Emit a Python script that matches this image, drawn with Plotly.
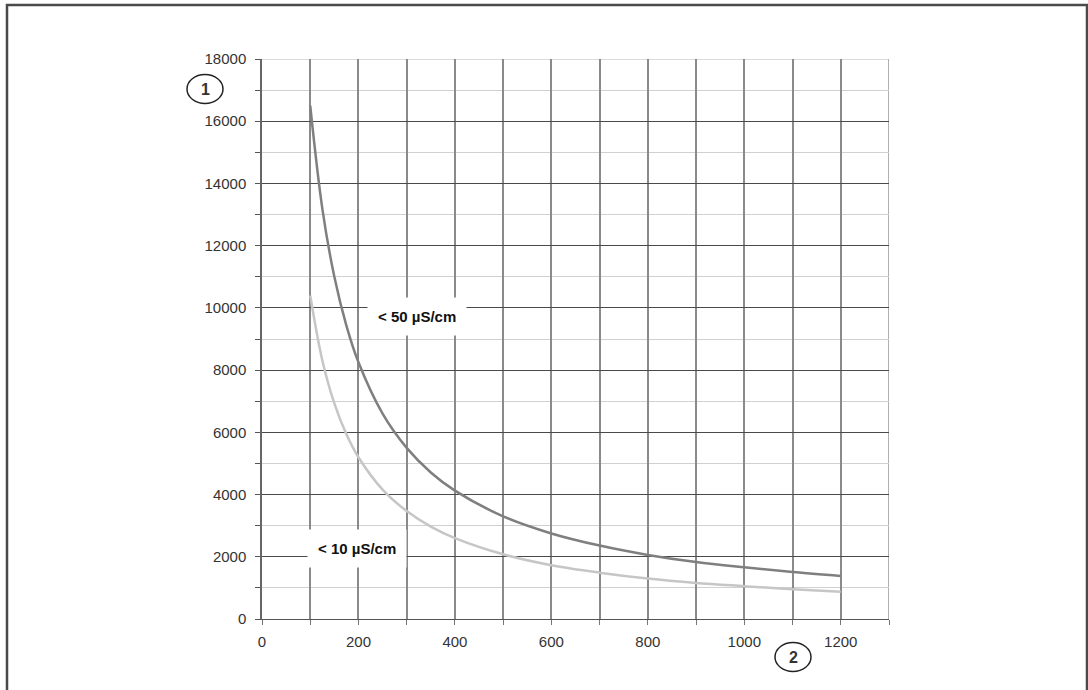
import plotly.graph_objects as go

# Data
x_vals = [100, 125, 150, 175, 200, 250, 300, 350, 400, 500, 600, 700, 800, 900, 1000, 1100, 1200]
y_50 = [16500, 13200, 11000, 9430, 8250, 6600, 5500, 4710, 4125, 3300, 2750, 2360, 2060, 1830, 1660, 1510, 1385]
y_10 = [10400, 8320, 6930, 5940, 5200, 4160, 3470, 2970, 2600, 2080, 1730, 1490, 1300, 1160, 1055, 955, 872]
label_50 = "< 50 µS/cm"
label_10 = "< 10 µS/cm"
x_ticks = list(range(0, 1301, 100))
x_tick_text = [str(v) if v % 200 == 0 and v <= 1200 else "" for v in x_ticks]
y_ticks = list(range(0, 18001, 2000))
y_tick_text = [str(v) for v in y_ticks]

W, H = 1088, 690
L, R, T, B = 262, 199, 59, 71
pw, ph = W - L - R, H - T - B

def px(x):
    return (x - L) / pw

def py(y):
    return (H - B - y) / ph

font_fam = "Liberation Sans, Arial, sans-serif"

fig = go.Figure()
fig.add_trace(go.Scatter(x=x_vals, y=y_50, mode="lines", line=dict(color="#7f7f7f", width=2.5, shape="spline"),
                         name=label_50, hoverinfo="x+y"))
fig.add_trace(go.Scatter(x=x_vals, y=y_10, mode="lines", line=dict(color="#c6c6c6", width=2.5, shape="spline"),
                         name=label_10, hoverinfo="x+y"))

fig.update_layout(
    width=W, height=H,
    margin=dict(l=L, r=R, t=T, b=B, pad=0),
    paper_bgcolor="white", plot_bgcolor="white",
    showlegend=False,
    font=dict(family=font_fam, size=15, color="#333333"),
    xaxis=dict(range=[0, 1300], tickvals=x_ticks, ticktext=x_tick_text,
               showgrid=True, gridcolor="#8a8a8a", gridwidth=1.5,
               ticks="outside", ticklen=5, tickcolor="#777777",
               showline=True, linecolor="#555555", linewidth=1,
               zeroline=False, fixedrange=True, ticklabelstandoff=4),
    yaxis=dict(range=[0, 18000], tickvals=y_ticks, ticktext=y_tick_text,
               showgrid=True, gridcolor="#4a4a4a", gridwidth=1,
               ticks="outside", ticklen=5, tickcolor="#555555",
               showline=True, linecolor="#666666", linewidth=1.5,
               zeroline=False, fixedrange=True, ticklabelstandoff=6,
               minor=dict(dtick=1000, tick0=0, showgrid=True, gridcolor="#d0d0d0", gridwidth=1,
                          ticks="outside", ticklen=5, tickcolor="#555555")),
)

# top and right grid edges are lighter
fig.add_shape(type="line", xref="x", yref="y", x0=0, x1=1300, y0=18000, y1=18000,
              line=dict(color="#cfcfcf", width=1.5), layer="below")
fig.add_shape(type="line", xref="x", yref="y", x0=1300, x1=1300, y0=0, y1=18000,
              line=dict(color="#b0b0b0", width=2), layer="below")

# curve labels
fig.add_annotation(x=322, y=9720, xref="x", yref="y", text="<b>" + label_50 + "</b>", showarrow=False,
                   bgcolor="white", borderpad=10, font=dict(size=15, color="#111111", family=font_fam))
fig.add_annotation(x=197, y=2280, xref="x", yref="y", text="<b>" + label_10 + "</b>", showarrow=False,
                   bgcolor="white", borderpad=10, font=dict(size=15, color="#111111", family=font_fam))

# circled numbers
for cx, cy, t in [(205, 89, "1"), (793, 657, "2")]:
    fig.add_shape(type="circle", xref="paper", yref="paper",
                  x0=px(cx - 18), x1=px(cx + 18), y0=py(cy + 14.5), y1=py(cy - 14.5),
                  line=dict(color="#222222", width=1.5))
    fig.add_annotation(x=px(cx), y=py(cy), xref="paper", yref="paper", text="<b>" + t + "</b>",
                       xanchor="center", yanchor="middle",
                       showarrow=False, font=dict(size=16, color="#333333", family=font_fam))

# outer frame
fig.add_shape(type="rect", xref="paper", yref="paper",
              x0=px(7), x1=px(1087), y0=py(700), y1=py(5),
              line=dict(color="#4a4a4a", width=2.5))

fig.write_html("out.html", config={"displayModeBar": False},
               post_script="document.body.style.margin='0';document.body.style.overflow='hidden';")
